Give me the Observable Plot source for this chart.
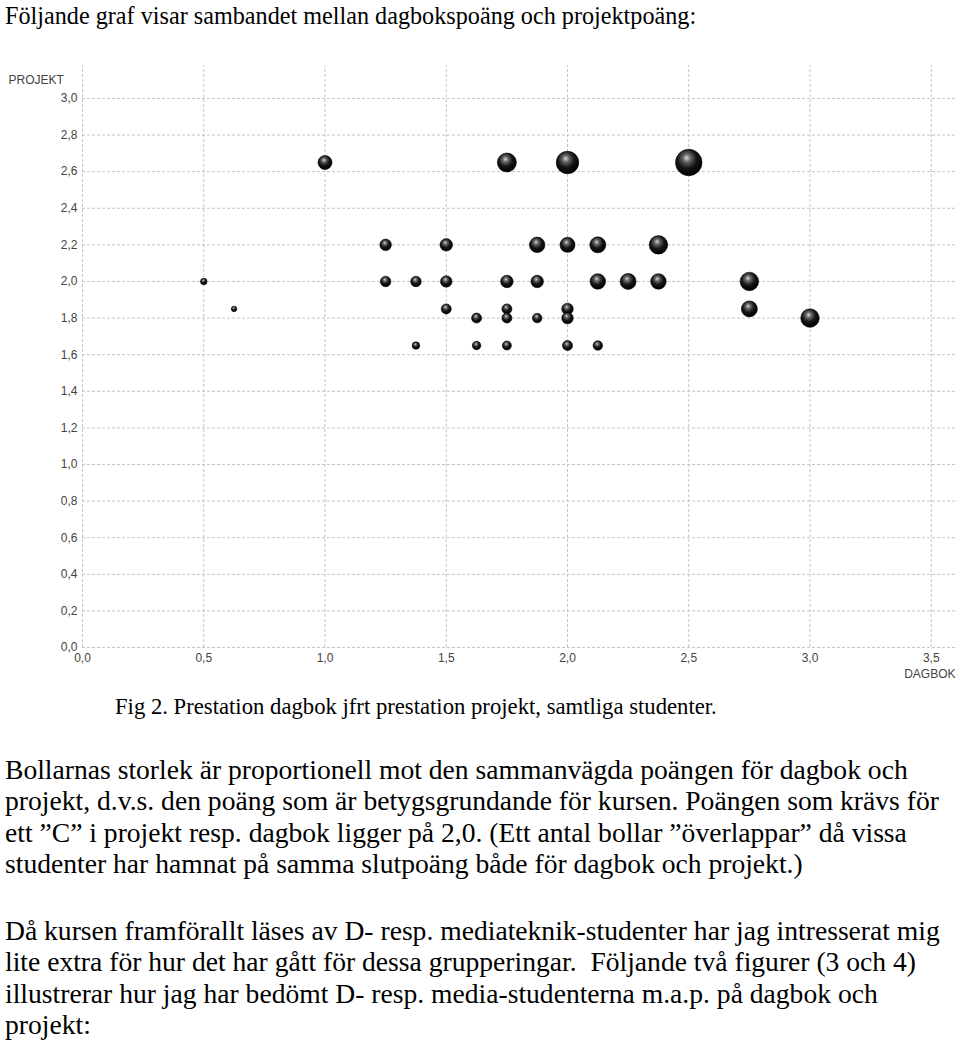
<!DOCTYPE html>
<html>
<head>
<meta charset="utf-8">
<script src="https://cdn.jsdelivr.net/npm/d3@7"></script>
<script src="https://cdn.jsdelivr.net/npm/@observablehq/plot@0.6"></script>
<style>
  html, body { margin: 0; padding: 0; background: #fff; }
  body { width: 960px; height: 1040px; overflow: hidden; position: relative; font-family: "Liberation Serif", "Times New Roman", serif; color: #000; }
  .t { position: absolute; left: 5px; white-space: nowrap; }
  #title { top: 1px; font-size: 24.2px; line-height: 29px; }
  #chart { position: absolute; left: 0; top: 60px; }
  #fig { top: 692px; left: 115px; font-size: 22.7px; line-height: 29px; }
  .p { font-size: 27.6px; line-height: 31.4px; }
  #p1 { top: 754px; }
  #p2 { top: 915px; }
</style>
</head>
<body>
<div class="t" id="title">Följande graf visar sambandet mellan dagbokspoäng och projektpoäng:</div>
<div id="chart"></div>
<div class="t" id="fig">Fig 2. Prestation dagbok jfrt prestation projekt, samtliga studenter.</div>
<div class="t p" id="p1">Bollarnas storlek är proportionell mot den sammanvägda poängen för dagbok och<br>projekt, d.v.s. den poäng som är betygsgrundande för kursen. Poängen som krävs för<br>ett ”C” i projekt resp. dagbok ligger på 2,0. (Ett antal bollar ”överlappar” då vissa<br>studenter har hamnat på samma slutpoäng både för dagbok och projekt.)</div>
<div class="t p" id="p2">Då kursen framförallt läses av D- resp. mediateknik-studenter har jag intresserat mig<br>lite extra för hur det har gått för dessa grupperingar.&nbsp; Följande två figurer (3 och 4)<br>illustrerar hur jag har bedömt D- resp. media-studenterna m.a.p. på dagbok och<br>projekt:</div>
<script>
// Data
const dagbok = [
  1.0, 1.75, 2.0, 2.5,
  1.25, 1.5, 1.875, 2.0, 2.125, 2.375,
  0.5, 1.25, 1.375, 1.5, 1.75, 1.875, 2.125, 2.25, 2.375, 2.75,
  0.625, 1.5, 1.75, 2.0, 2.75,
  1.625, 1.75, 1.875, 2.0, 3.0,
  1.375, 1.625, 1.75, 2.0, 2.125
];
const projekt = [
  2.65, 2.65, 2.65, 2.65,
  2.2, 2.2, 2.2, 2.2, 2.2, 2.2,
  2.0, 2.0, 2.0, 2.0, 2.0, 2.0, 2.0, 2.0, 2.0, 2.0,
  1.85, 1.85, 1.85, 1.85, 1.85,
  1.8, 1.8, 1.8, 1.8, 1.8,
  1.65, 1.65, 1.65, 1.65, 1.65
];
// weighted (sammanvägd) score, estimated from ball sizes
const poang = [
  2.8, 3.8, 4.5, 5.3,
  2.3, 2.5, 3.1, 3.0, 3.2, 3.7,
  1.3, 2.1, 2.1, 2.3, 2.5, 2.5, 3.1, 3.2, 3.1, 3.7,
  1.1, 2.0, 2.0, 2.3, 3.2,
  2.0, 2.0, 1.9, 2.3, 3.7,
  1.5, 1.7, 1.8, 2.0, 1.9
];
const xTicks = [0, 0.5, 1.0, 1.5, 2.0, 2.5, 3.0, 3.5];
const yTicks = [0, 0.2, 0.4, 0.6, 0.8, 1.0, 1.2, 1.4, 1.6, 1.8, 2.0, 2.2, 2.4, 2.6, 2.8, 3.0];

const data = dagbok.map((d, i) => ({dagbok: d, projekt: projekt[i], poang: poang[i]}));
const fmt = d => d.toFixed(1).replace(".", ",");

const plot = Plot.plot({
  width: 960,
  height: 630,
  marginLeft: 82,
  marginRight: 5,
  marginTop: 5,
  marginBottom: 43,
  style: {fontFamily: "Liberation Sans, Arial, sans-serif", fontSize: "12px", color: "#444", background: "white"},
  x: {domain: [0, 3.6], ticks: xTicks, tickFormat: fmt, label: null},
  y: {domain: [0, 3.18], ticks: yTicks, tickFormat: fmt, label: null},
  r: {type: "linear", domain: [0, 6], range: [0, 15]},
  marks: [
    Plot.gridX(xTicks, {stroke: "#c4c4c4", strokeOpacity: 1, strokeDasharray: "3,2", y1: 0, y2: 3.18}),
    Plot.gridY(yTicks, {stroke: "#c4c4c4", strokeOpacity: 1, strokeDasharray: "3,2"}),
    Plot.axisX({ticks: xTicks, tickFormat: fmt, tickSize: 0, tickPadding: 6, label: null, fill: "#444"}),
    Plot.axisY({ticks: yTicks, tickFormat: fmt, tickSize: 0, tickPadding: 5, label: null, fill: "#444"}),
    Plot.dot(data, {x: "dagbok", y: "projekt", r: "poang", fill: "url(#ball)", stroke: "#000", strokeWidth: 0.6}),
    Plot.text(["PROJEKT"], {frameAnchor: "top-left", dx: -74, dy: 10, textAnchor: "start", fill: "#444", fontSize: 12}),
    Plot.text(["DAGBOK"], {frameAnchor: "bottom-right", dy: 30, textAnchor: "end", fill: "#444", fontSize: 12})
  ]
});

const ns = "http://www.w3.org/2000/svg";
const defs = document.createElementNS(ns, "defs");
defs.innerHTML = `<radialGradient id="ball" cx="0.45" cy="0.38" r="0.6" fx="0.42" fy="0.32">
  <stop offset="0" stop-color="#d8d8d8"/>
  <stop offset="0.25" stop-color="#666"/>
  <stop offset="0.6" stop-color="#151515"/>
  <stop offset="1" stop-color="#000"/>
</radialGradient>`;
plot.insertBefore(defs, plot.firstChild);
document.getElementById("chart").appendChild(plot);
</script>
</body>
</html>
